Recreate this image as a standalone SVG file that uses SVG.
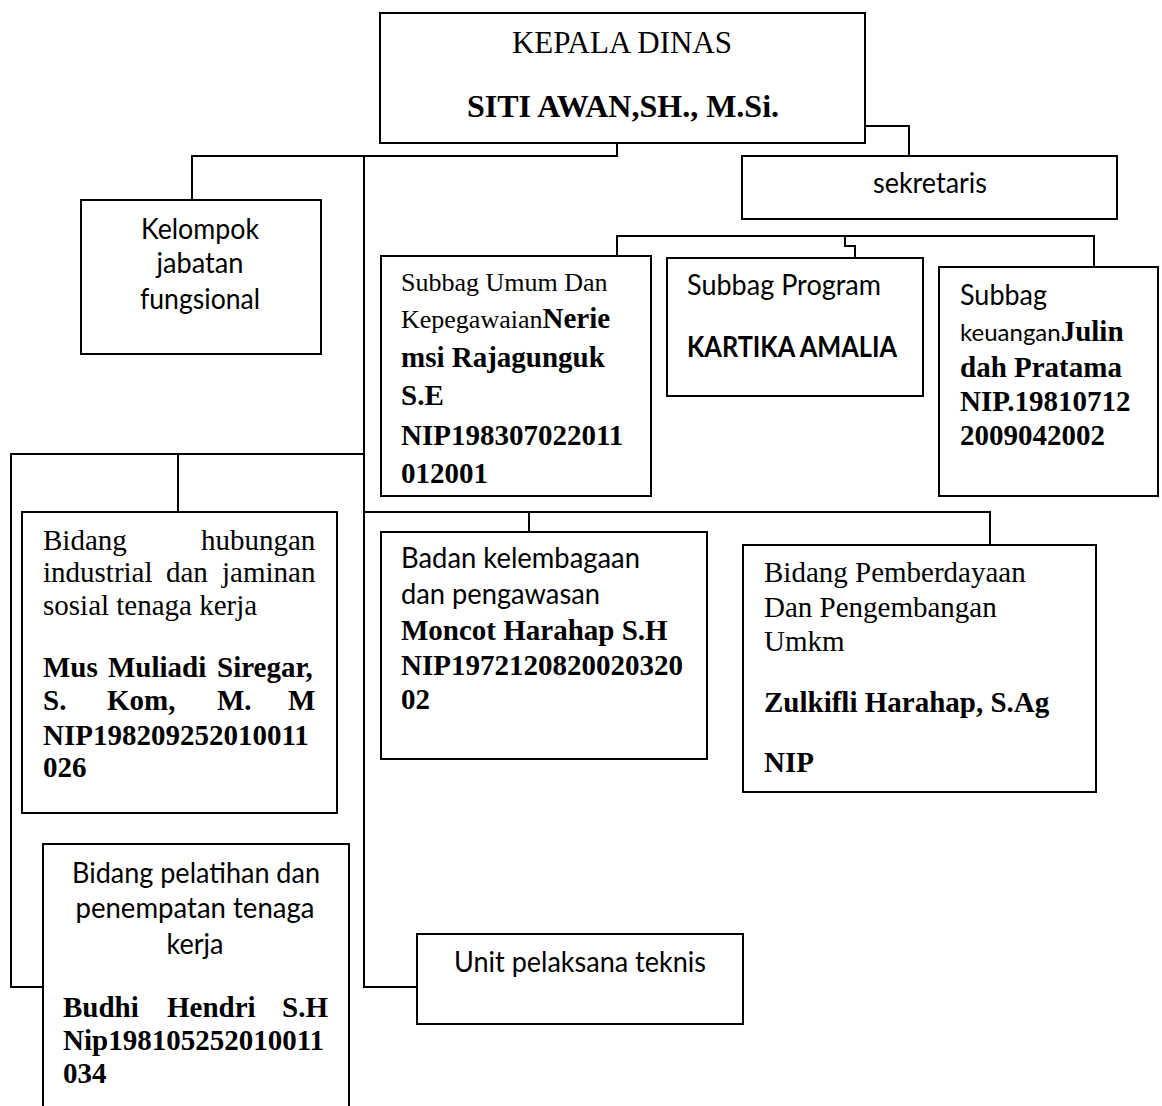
<svg xmlns="http://www.w3.org/2000/svg" width="1162" height="1106" viewBox="0 0 1162 1106">
<style>
.box{fill:#fff;stroke:#000;stroke-width:2}
.ln{fill:none;stroke:#000;stroke-width:2}
.tr{font-family:"Liberation Serif","Times New Roman",serif;font-size:29px;fill:#000}
.b{font-weight:bold}
.cal{font-family:Lato,"Liberation Sans",sans-serif;font-size:28px;fill:#000}
.mid{text-anchor:middle}
.end{text-anchor:end}
</style>
<rect width="1162" height="1106" fill="#fff"/>
<g id="connectors">
<path class="ln" d="M617,143 V156 H192 V200"/>
<path class="ln" d="M364,156 V987 H417"/>
<path class="ln" d="M865,126 H909 V156"/>
<path class="ln" d="M617,256 V236 H1094 V267"/>
<path class="ln" d="M845,236 V246 H855 V258"/>
<path class="ln" d="M364,454 H11 V987 H43"/>
<path class="ln" d="M178,454 V512"/>
<path class="ln" d="M364,512 H990 V545"/>
<path class="ln" d="M529,512 V532"/>
</g>
<g id="kepala-dinas">
<rect class="box" x="380" y="13" width="485" height="130"/>
<text class="tr mid" x="622" y="53" style="font-size:31px">KEPALA DINAS</text>
<text class="tr b mid" x="623" y="117" style="font-size:32px">SITI AWAN,SH., M.Si.</text>
</g>
<g id="kelompok-jabatan-fungsional">
<rect class="box" x="81" y="200" width="240" height="154"/>
<text class="cal mid" x="200" y="239" textLength="118" lengthAdjust="spacingAndGlyphs">Kelompok</text>
<text class="cal mid" x="200" y="273" textLength="87" lengthAdjust="spacingAndGlyphs">jabatan</text>
<text class="cal mid" x="200" y="309" textLength="120" lengthAdjust="spacingAndGlyphs">fungsional</text>
</g>
<g id="sekretaris">
<rect class="box" x="742" y="156" width="375" height="63"/>
<text class="cal mid" x="930" y="193" textLength="114" lengthAdjust="spacingAndGlyphs">sekretaris</text>
</g>
<g id="subbag-umum">
<rect class="box" x="381" y="256" width="270" height="240"/>
<text class="tr" x="401" y="291" style="font-size:26px">Subbag Umum Dan</text>
<text class="tr" x="401" y="328"><tspan style="font-size:26px">Kepegawaian</tspan><tspan class="b">Nerie</tspan></text>
<text class="tr b" x="401" y="367">msi Rajagunguk</text>
<text class="tr b" x="401" y="405">S.E</text>
<text class="tr b" x="401" y="445">NIP198307022011</text>
<text class="tr b" x="401" y="483">012001</text>
</g>
<g id="subbag-program">
<rect class="box" x="667" y="258" width="256" height="138"/>
<text class="cal" x="687" y="295" textLength="194" lengthAdjust="spacingAndGlyphs">Subbag Program</text>
<text class="cal b" x="687" y="357" textLength="210" lengthAdjust="spacingAndGlyphs">KARTIKA AMALIA</text>
</g>
<g id="subbag-keuangan">
<rect class="box" x="939" y="267" width="219" height="229"/>
<text class="cal" x="960" y="305" textLength="87" lengthAdjust="spacingAndGlyphs">Subbag</text>
<text x="960" y="341"><tspan class="cal" style="font-size:24px">keuangan</tspan><tspan class="tr b">Julin</tspan></text>
<text class="tr b" x="960" y="377">dah Pratama</text>
<text class="tr b" x="960" y="411">NIP.19810712</text>
<text class="tr b" x="960" y="445">2009042002</text>
</g>
<g id="bidang-hubungan-industrial">
<rect class="box" x="22" y="512" width="315" height="301"/>
<text class="tr" y="550"><tspan x="43">Bidang</tspan><tspan x="201">hubungan</tspan></text>
<text class="tr" y="582"><tspan x="43">industrial</tspan><tspan x="166">dan</tspan><tspan x="222">jaminan</tspan></text>
<text class="tr" x="43" y="615">sosial tenaga kerja</text>
<text class="tr b" y="677"><tspan x="43">Mus</tspan><tspan x="108">Muliadi</tspan><tspan x="217">Siregar,</tspan></text>
<text class="tr b" y="710"><tspan x="43">S.</tspan><tspan x="107">Kom,</tspan><tspan x="217">M.</tspan><tspan x="288">M</tspan></text>
<text class="tr b" x="43" y="745">NIP198209252010011</text>
<text class="tr b" x="43" y="777">026</text>
</g>
<g id="badan-kelembagaan">
<rect class="box" x="381" y="532" width="326" height="227"/>
<text class="cal" x="401" y="568" textLength="239" lengthAdjust="spacingAndGlyphs">Badan kelembagaan</text>
<text class="cal" x="401" y="604" textLength="199" lengthAdjust="spacingAndGlyphs">dan pengawasan</text>
<text class="tr b" x="401" y="640">Moncot Harahap S.H</text>
<text class="tr b" x="401" y="675">NIP1972120820020320</text>
<text class="tr b" x="401" y="709">02</text>
</g>
<g id="bidang-pemberdayaan">
<rect class="box" x="743" y="545" width="353" height="247"/>
<text class="tr" x="764" y="582">Bidang Pemberdayaan</text>
<text class="tr" x="764" y="617">Dan Pengembangan</text>
<text class="tr" x="764" y="651">Umkm</text>
<text class="tr b" x="764" y="712">Zulkifli Harahap, S.Ag</text>
<text class="tr b" x="764" y="772">NIP</text>
</g>
<g id="bidang-pelatihan">
<rect class="box" x="43" y="844" width="306" height="290"/>
<text class="cal mid" x="196" y="883" textLength="248" lengthAdjust="spacingAndGlyphs">Bidang pelatihan dan</text>
<text class="cal mid" x="195" y="918" textLength="239" lengthAdjust="spacingAndGlyphs">penempatan tenaga</text>
<text class="cal mid" x="195" y="954" textLength="57" lengthAdjust="spacingAndGlyphs">kerja</text>
<text class="tr b" y="1017"><tspan x="63">Budhi</tspan><tspan x="167">Hendri</tspan><tspan x="282">S.H</tspan></text>
<text class="tr b" x="63" y="1050">Nip198105252010011</text>
<text class="tr b" x="63" y="1083">034</text>
</g>
<g id="unit-pelaksana-teknis">
<rect class="box" x="417" y="934" width="326" height="90"/>
<text class="cal mid" x="580" y="972" textLength="252" lengthAdjust="spacingAndGlyphs">Unit pelaksana teknis</text>
</g>
</svg>
